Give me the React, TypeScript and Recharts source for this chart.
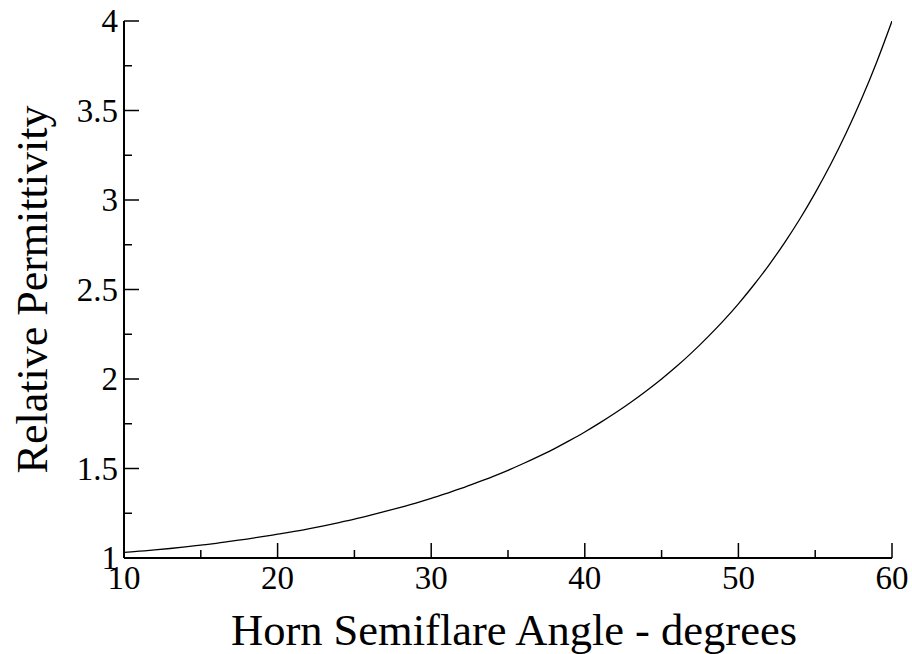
import { LineChart, Line, XAxis, YAxis } from 'recharts'

// semiflare angle (degrees) and the matching relative permittivity
const angles = [
  10, 11, 12, 13, 14, 15, 16, 17, 18, 19, 20, 21, 22, 23, 24, 25, 26, 27, 28, 29, 30,
  31, 32, 33, 34, 35, 36, 37, 38, 39, 40, 41, 42, 43, 44, 45, 46, 47, 48, 49, 50,
  51, 52, 53, 54, 55, 56, 57, 58, 59, 60,
]
const permittivity = [
  1.031, 1.038, 1.045, 1.053, 1.062, 1.072, 1.082, 1.094, 1.106, 1.119, 1.133,
  1.147, 1.163, 1.18, 1.198, 1.217, 1.238, 1.26, 1.283, 1.307, 1.333,
  1.361, 1.39, 1.422, 1.455, 1.49, 1.528, 1.568, 1.61, 1.656, 1.704,
  1.756, 1.811, 1.87, 1.933, 2.0, 2.072, 2.15, 2.234, 2.323, 2.42,
  2.525, 2.638, 2.761, 2.894, 3.04, 3.198, 3.371, 3.561, 3.77, 4.0,
]

const xMajor = [10, 20, 30, 40, 50, 60]
const xMinor = [15, 25, 35, 45, 55]
const yMajor = [1, 1.5, 2, 2.5, 3, 3.5, 4]
const yMinor = [1.25, 1.75, 2.25, 2.75, 3.25, 3.75]

const xTicks = [...xMajor, ...xMinor].sort((a, b) => a - b)
const yTicks = [...yMajor, ...yMinor].sort((a, b) => a - b)

const data = angles.map((a, i) => ({ angle: a, eps: permittivity[i] }))

const FONT = 'Liberation Serif'
const MAJOR = 15
const MINOR = 8

type TickProps = { x?: number; y?: number; payload?: { value: number } }

const BottomTick = ({ x = 0, y = 0, payload }: TickProps) => {
  const v = payload?.value ?? 0
  const major = xMajor.includes(v)
  return (
    <g>
      <line x1={x} x2={x} y1={y} y2={y - (major ? MAJOR : MINOR)} stroke="#000" strokeWidth={1.5} />
      {major && (
        <text x={x} y={y + 31} textAnchor="middle" fontFamily={FONT} fontSize={33} fill="#000">
          {v}
        </text>
      )}
    </g>
  )
}

const TopTick = ({ x = 0, y = 0, payload }: TickProps) => {
  const major = xMajor.includes(payload?.value ?? 0)
  return <line x1={x} x2={x} y1={y} y2={y + (major ? MAJOR : MINOR)} stroke="#000" strokeWidth={1.5} />
}

const LeftTick = ({ x = 0, y = 0, payload }: TickProps) => {
  const v = payload?.value ?? 0
  const major = yMajor.includes(v)
  return (
    <g>
      <line x1={x} x2={x + (major ? MAJOR : MINOR)} y1={y} y2={y} stroke="#000" strokeWidth={1.5} />
      {major && (
        <text x={x - 6} y={y + 11} textAnchor="end" fontFamily={FONT} fontSize={33} fill="#000">
          {v}
        </text>
      )}
    </g>
  )
}

const RightTick = ({ x = 0, y = 0, payload }: TickProps) => {
  const major = yMajor.includes(payload?.value ?? 0)
  return <line x1={x} x2={x - (major ? MAJOR : MINOR)} y1={y} y2={y} stroke="#000" strokeWidth={1.5} />
}

export default function App() {
  return (
    <div style={{ position: 'absolute', left: 0, top: 0, background: '#fff' }}>
      <LineChart width={912} height={654} data={data} margin={{ top: 21, right: 20, bottom: 36, left: 64 }}>
        <XAxis
          dataKey="angle"
          type="number"
          domain={[10, 60]}
          ticks={xTicks}
          interval={0}
          allowDataOverflow
          height={60}
          tickSize={0}
          tickMargin={0}
          axisLine={{ stroke: '#000', strokeWidth: 2 }}
          tick={<BottomTick />}
          label={({ viewBox }: any) => (
            <text
              x={viewBox.x + viewBox.width / 2 + 6}
              y={645}
              textAnchor="middle"
              fontFamily={FONT}
              fontSize={44.5}
              fill="#000"
            >
              Horn Semiflare Angle - degrees
            </text>
          )}
        />
        <XAxis
          xAxisId="top"
          orientation="top"
          dataKey="angle"
          type="number"
          domain={[10, 60]}
          ticks={xTicks}
          interval={0}
          allowDataOverflow
          height={0}
          tickSize={0}
          tickMargin={0}
          axisLine={{ stroke: '#000', strokeWidth: 2 }}
          tick={<TopTick />}
        />
        <YAxis
          type="number"
          domain={[1, 4]}
          ticks={yTicks}
          interval={0}
          allowDataOverflow
          width={60}
          tickSize={0}
          tickMargin={0}
          axisLine={{ stroke: '#000', strokeWidth: 2 }}
          tick={<LeftTick />}
          label={({ viewBox }: any) => (
            <text
              x={47}
              y={viewBox.y + viewBox.height / 2}
              transform={`rotate(-90, 47, ${viewBox.y + viewBox.height / 2})`}
              textAnchor="middle"
              fontFamily={FONT}
              fontSize={44}
              fill="#000"
            >
              Relative Permittivity
            </text>
          )}
        />
        <YAxis
          yAxisId="right"
          orientation="right"
          type="number"
          domain={[1, 4]}
          ticks={yTicks}
          interval={0}
          allowDataOverflow
          width={0}
          tickSize={0}
          tickMargin={0}
          axisLine={{ stroke: '#000', strokeWidth: 2 }}
          tick={<RightTick />}
        />
        <Line
          type="monotone"
          dataKey="eps"
          stroke="#000"
          strokeWidth={1.3}
          dot={false}
          isAnimationActive={false}
        />
      </LineChart>
    </div>
  )
}
